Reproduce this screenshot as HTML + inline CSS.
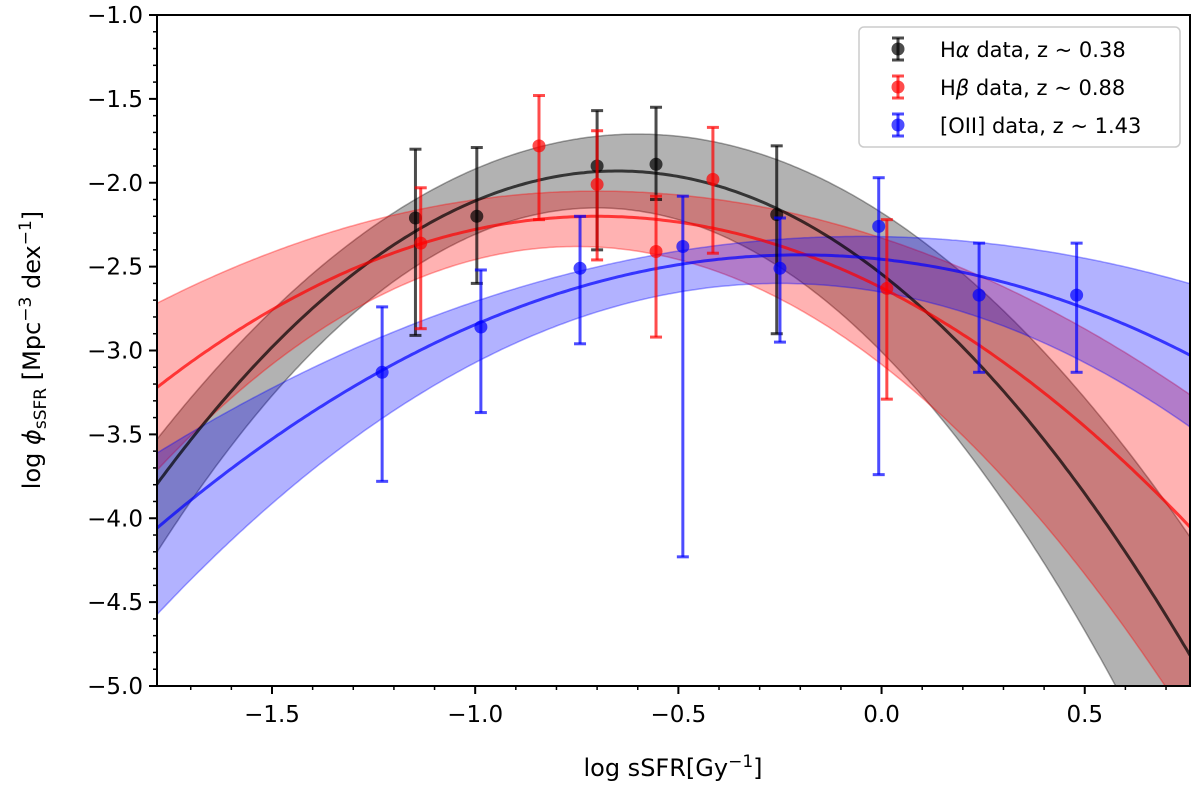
<!DOCTYPE html>
<html><head><meta charset="utf-8"><style>
html,body{margin:0;padding:0;background:#fff;width:1200px;height:791px;overflow:hidden;font-family:"Liberation Sans","DejaVu Sans",sans-serif}
svg{display:block;position:absolute;left:0;top:0}
svg text{font-family:"DejaVu Sans","Liberation Sans",sans-serif}
</style></head><body>
<svg id="chart" width="1200" height="791" xmlns="http://www.w3.org/2000/svg"></svg>
<script>
const xTicks=[-1.5,-1.0,-0.5,0.0,0.5];
const xTickLabels=["\u22121.5","\u22121.0","\u22120.5","0.0","0.5"];
const yTicks=[-1.0,-1.5,-2.0,-2.5,-3.0,-3.5,-4.0,-4.5,-5.0];
const yTickLabels=["\u22121.0","\u22121.5","\u22122.0","\u22122.5","\u22123.0","\u22123.5","\u22124.0","\u22124.5","\u22125.0"];
// fits: [peakX, peakY, curvature]
const haFit=[-0.65,-1.93,-1.454], haUp=[-0.6,-1.71,-1.3], haLo=[-0.7,-2.15,-1.75];
const hbFit=[-0.7,-2.2,-0.87], hbUp=[-0.7,-2.05,-0.57], hbLo=[-0.75,-2.38,-1.25];
const oiiFit=[-0.2,-2.43,-0.65], oiiUp=[-0.05,-2.32,-0.43], oiiLo=[-0.25,-2.6,-0.84];
// data: x, y, upper, lower
const haX=[-1.147,-0.996,-0.70,-0.555,-0.258];
const haY=[-2.21,-2.20,-1.90,-1.89,-2.19];
const haHi=[-1.80,-1.79,-1.57,-1.55,-1.78];
const haLoE=[-2.91,-2.60,-2.40,-2.10,-2.90];
const hbX=[-1.134,-0.843,-0.70,-0.555,-0.415,0.013];
const hbY=[-2.36,-1.78,-2.01,-2.41,-1.98,-2.63];
const hbHi=[-2.03,-1.48,-1.69,-2.08,-1.67,-2.22];
const hbLoE=[-2.87,-2.22,-2.46,-2.92,-2.42,-3.29];
const oX=[-1.229,-0.986,-0.742,-0.489,-0.25,-0.007,0.24,0.48];
const oY=[-3.13,-2.86,-2.51,-2.38,-2.51,-2.26,-2.67,-2.67];
const oHi=[-2.74,-2.52,-2.20,-2.08,-2.21,-1.97,-2.36,-2.36];
const oLoE=[-3.78,-3.37,-2.96,-4.23,-2.95,-3.74,-3.13,-3.13];

const X0=157,X1=1190,Y0=15,Y1=686,XMIN=-1.783,XMAX=0.759,YMIN=-5,YMAX=-1;
const sx=v=>X0+(v-XMIN)/(XMAX-XMIN)*(X1-X0);
const sy=v=>Y0+(YMAX-v)/(YMAX-YMIN)*(Y1-Y0);
const svg=document.getElementById('chart');
const NS='http://www.w3.org/2000/svg';
function mk(t,a,p){const e=document.createElementNS(NS,t);for(const k in a)e.setAttribute(k,a[k]);(p||svg).appendChild(e);return e;}
const cp=mk('clipPath',{id:'pc'});mk('rect',{x:X0,y:Y0,width:X1-X0,height:Y1-Y0},cp);
const q=(f,x)=>f[1]+f[2]*(x-f[0])*(x-f[0]);
function curvePts(f){const p=[];for(let i=0;i<=300;i++){const x=XMIN+(XMAX-XMIN)*i/300;const y=Math.max(YMIN-0.05,Math.min(YMAX,q(f,x)));p.push(sx(x).toFixed(1)+','+sy(y).toFixed(1));}return p;}
function band(up,lo,col,name){
  const g=mk('g',{'clip-path':'url(#pc)'});
  
  
  const a=curvePts(up),b=curvePts(lo).reverse();
  mk('polygon',{points:a.concat(b).join(' '),fill:col,'fill-opacity':0.3,stroke:col,'stroke-opacity':0.35,'stroke-width':1.5},g);
}
function line(f,col,name){
  const e=mk('polyline',{points:curvePts(f).join(' '),fill:'none',stroke:col,'stroke-opacity':0.7,'stroke-width':3,'clip-path':'url(#pc)'});
  
  
}
band(haUp,haLo,'#000','halpha-band');
band(hbUp,hbLo,'#f00','hbeta-band');
band(oiiUp,oiiLo,'#00f','oii-band');
line(haFit,'#000','halpha-fit');line(hbFit,'#f00','hbeta-fit');line(oiiFit,'#00f','oii-fit');
function pts(xs,ys,hi,lo,col,name){
  const g=mk('g',{});
  
  
  xs.forEach((x,i)=>{
    const px=sx(x);
    mk('line',{x1:px,x2:px,y1:sy(hi[i]),y2:sy(lo[i]),stroke:col,'stroke-opacity':0.7,'stroke-width':3},g);
    mk('line',{x1:px-6,x2:px+6,y1:sy(hi[i]),y2:sy(hi[i]),stroke:col,'stroke-opacity':0.7,'stroke-width':3},g);
    mk('line',{x1:px-6,x2:px+6,y1:sy(lo[i]),y2:sy(lo[i]),stroke:col,'stroke-opacity':0.7,'stroke-width':3},g);
    mk('circle',{cx:px,cy:sy(ys[i]),r:6.5,fill:col,'fill-opacity':0.7},g);
  });
}
pts(haX,haY,haHi,haLoE,'#000','halpha-points');
pts(hbX,hbY,hbHi,hbLoE,'#f00','hbeta-points');
pts(oX,oY,oHi,oLoE,'#00f','oii-points');
mk('rect',{x:X0,y:Y0,width:X1-X0,height:Y1-Y0,fill:'none',stroke:'#000','stroke-width':2});
for(let v=-1.7;v<=0.75;v+=0.1){const px=sx(v);mk('line',{x1:px,x2:px,y1:Y1,y2:Y1+4,stroke:'#000','stroke-width':1.5});}
xTicks.forEach((v,i)=>{const px=sx(v);mk('line',{x1:px,x2:px,y1:Y1,y2:Y1+8,stroke:'#000','stroke-width':2});
  const t=mk('text',{x:px,y:Y1+36,'text-anchor':'middle','font-size':23});t.textContent=xTickLabels[i];
  
  });
for(let k=0;k<=40;k++){const py=sy(-1-k*0.1);mk('line',{x1:X0-4,x2:X0,y1:py,y2:py,stroke:'#000','stroke-width':1.5});}
yTicks.forEach((v,i)=>{const py=sy(v);mk('line',{x1:X0-8,x2:X0,y1:py,y2:py,stroke:'#000','stroke-width':2});
  const t=mk('text',{x:X0-14,y:py+8,'text-anchor':'end','font-size':23});t.textContent=yTickLabels[i];
  
  });
</script>
<svg width="1200" height="791" xmlns="http://www.w3.org/2000/svg">
<text x="673" y="776" text-anchor="middle" font-size="24" font-family="DejaVu Sans,sans-serif">log  sSFR[Gy<tspan dy="-9" font-size="17">−1</tspan><tspan dy="9">]</tspan></text>
<text transform="translate(40,350) rotate(-90)" text-anchor="middle" font-size="24" font-family="DejaVu Sans,sans-serif">log <tspan font-style="italic">ϕ</tspan><tspan dy="6" font-size="17">sSFR</tspan><tspan dy="-6"> [Mpc</tspan><tspan dy="-9" font-size="17">−3</tspan><tspan dy="9"> dex</tspan><tspan dy="-9" font-size="17">−1</tspan><tspan dy="9">]</tspan></text>
<g>
<rect x="859" y="27" width="321" height="120" rx="5" fill="#fff" fill-opacity="0.8" stroke="#ccc" stroke-width="1.5"/>
<g stroke="#000" stroke-opacity="0.7" stroke-width="3"><line x1="898" y1="38" x2="898" y2="60"/><line x1="892" y1="38" x2="904" y2="38"/><line x1="892" y1="60" x2="904" y2="60"/></g><circle cx="898" cy="49" r="6.5" fill="#000" fill-opacity="0.7"/>
<g stroke="#f00" stroke-opacity="0.7" stroke-width="3"><line x1="898" y1="76" x2="898" y2="98"/><line x1="892" y1="76" x2="904" y2="76"/><line x1="892" y1="98" x2="904" y2="98"/></g><circle cx="898" cy="87" r="6.5" fill="#f00" fill-opacity="0.7"/>
<g stroke="#00f" stroke-opacity="0.7" stroke-width="3"><line x1="898" y1="114" x2="898" y2="136"/><line x1="892" y1="114" x2="904" y2="114"/><line x1="892" y1="136" x2="904" y2="136"/></g><circle cx="898" cy="125" r="6.5" fill="#00f" fill-opacity="0.7"/>
<text x="940" y="57" font-size="21" font-family="DejaVu Sans,sans-serif">H<tspan font-style="italic">α</tspan> data, z ~ 0.38</text>
<text x="940" y="95" font-size="21" font-family="DejaVu Sans,sans-serif">H<tspan font-style="italic">β</tspan> data, z ~ 0.88</text>
<text x="940" y="133" font-size="21" font-family="DejaVu Sans,sans-serif">[OII] data, z ~ 1.43</text>
</g>
</svg>
</body></html>
